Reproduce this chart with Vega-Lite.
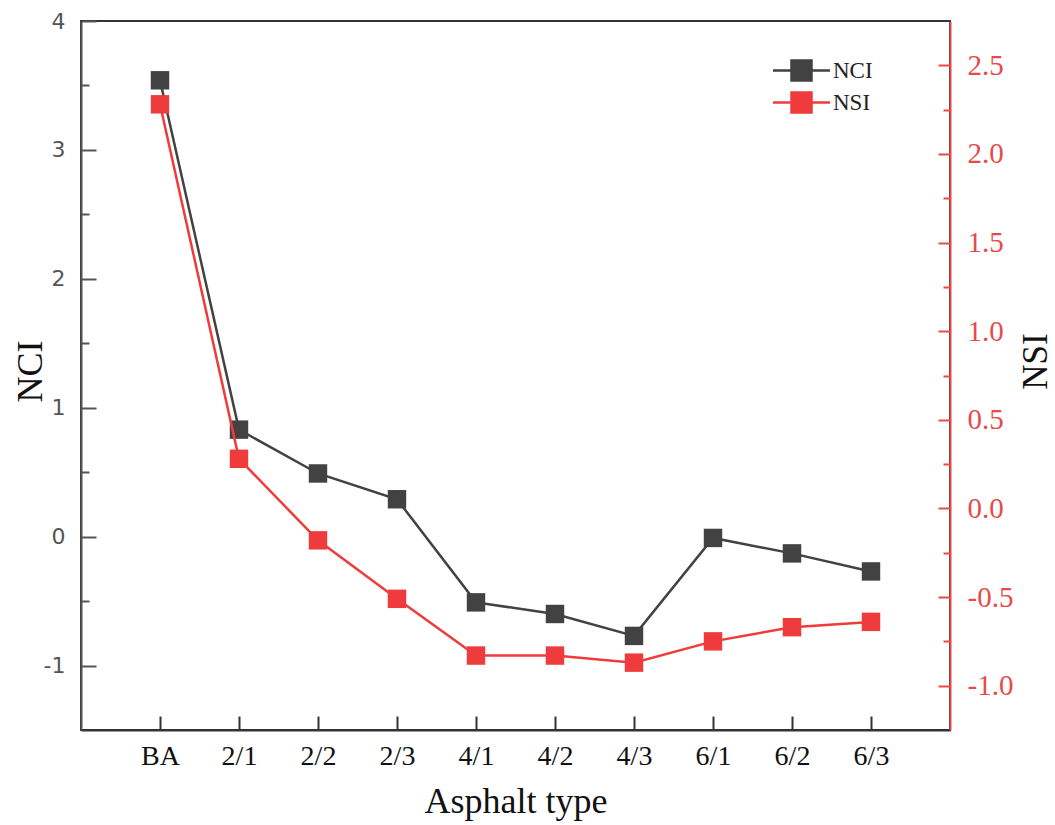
{
  "$schema": "https://vega.github.io/schema/vega-lite/v6.json",
  "width": 869,
  "height": 709,
  "autosize": {"type": "none"},
  "padding": {"left": 81, "top": 21, "right": 105, "bottom": 95},
  "data": {
    "values": [
      {"type": "BA", "series": "NCI", "value": 3.54},
      {"type": "2/1", "series": "NCI", "value": 0.83},
      {"type": "2/2", "series": "NCI", "value": 0.49},
      {"type": "2/3", "series": "NCI", "value": 0.29},
      {"type": "4/1", "series": "NCI", "value": -0.51},
      {"type": "4/2", "series": "NCI", "value": -0.6},
      {"type": "4/3", "series": "NCI", "value": -0.77},
      {"type": "6/1", "series": "NCI", "value": -0.01},
      {"type": "6/2", "series": "NCI", "value": -0.13},
      {"type": "6/3", "series": "NCI", "value": -0.27},
      {"type": "BA", "series": "NSI", "value": 2.28},
      {"type": "2/1", "series": "NSI", "value": 0.28},
      {"type": "2/2", "series": "NSI", "value": -0.18},
      {"type": "2/3", "series": "NSI", "value": -0.51},
      {"type": "4/1", "series": "NSI", "value": -0.83},
      {"type": "4/2", "series": "NSI", "value": -0.83},
      {"type": "4/3", "series": "NSI", "value": -0.87},
      {"type": "6/1", "series": "NSI", "value": -0.75},
      {"type": "6/2", "series": "NSI", "value": -0.67},
      {"type": "6/3", "series": "NSI", "value": -0.64}
    ]
  },
  "encoding": {
    "x": {
      "field": "type",
      "type": "nominal",
      "sort": ["BA", "2/1", "2/2", "2/3", "4/1", "4/2", "4/3", "6/1", "6/2", "6/3"],
      "scale": {"type": "point", "padding": 1},
      "axis": {
        "title": "Asphalt type",
        "labelAngle": 0,
        "labelFont": "Liberation Serif",
        "labelFontSize": 28,
        "labelColor": "#111",
        "labelPadding": 26,
        "tickSize": -14,
        "tickWidth": 2,
        "tickColor": "#333",
        "domainColor": "#333",
        "domainWidth": 2,
        "titleFont": "Liberation Serif",
        "titleFontSize": 36,
        "titleFontWeight": "normal",
        "titleColor": "#111",
        "titleY": 82,
        "titleBaseline": "alphabetic"
      }
    }
  },
  "layer": [
    {
      "transform": [{"filter": "datum.series === 'NCI'"}],
      "mark": {"type": "point", "opacity": 0},
      "encoding": {
        "y": {
          "field": "value",
          "type": "quantitative",
          "scale": {"domain": [-1.5, 4], "nice": false, "zero": false},
          "axis": {
            "orient": "left",
            "values": [-0.5, 0.5, 1.5, 2.5, 3.5],
            "labels": false,
            "domain": false,
            "grid": false,
            "tickSize": -8,
            "tickWidth": 2,
            "tickColor": "#555",
            "title": null
          }
        }
      }
    },
    {
      "transform": [{"filter": "datum.series === 'NSI'"}],
      "mark": {"type": "point", "opacity": 0},
      "encoding": {
        "y": {
          "field": "value",
          "type": "quantitative",
          "scale": {"domain": [-1.25, 2.75], "nice": false, "zero": false},
          "axis": {
            "orient": "right",
            "values": [-0.75, -0.25, 0.25, 0.75, 1.25, 1.75, 2.25],
            "labels": false,
            "domain": false,
            "grid": false,
            "tickSize": -7,
            "tickWidth": 2,
            "tickColor": "#e84a4a",
            "title": null
          }
        }
      }
    },
    {
      "transform": [{"filter": "datum.series === 'NCI'"}],
      "mark": {
        "type": "line",
        "strokeWidth": 2.5,
        "point": {"shape": "square", "size": 340, "filled": true, "opacity": 1}
      },
      "encoding": {
        "y": {
          "field": "value",
          "type": "quantitative",
          "scale": {"domain": [-1.5, 4], "nice": false, "zero": false},
          "axis": {
            "orient": "left",
            "title": "NCI",
            "values": [-1, 0, 1, 2, 3, 4],
            "labelExpr": "datum.value < 0 ? '-' + (-datum.value) : '' + datum.value",
            "grid": false,
            "labelFont": "DejaVu Sans",
            "labelFontSize": 22,
            "labelColor": "#555",
            "labelPadding": 31,
            "tickSize": -15,
            "tickWidth": 2,
            "tickColor": "#555",
            "domainColor": "#555",
            "domainWidth": 2,
            "titleFont": "Liberation Serif",
            "titleFontSize": 36,
            "titleFontWeight": "normal",
            "titleColor": "#111",
            "titleAngle": -90,
            "titleX": -51,
            "titleY": 350,
            "titleAlign": "center",
            "titleBaseline": "middle"
          }
        },
        "color": {
          "field": "series",
          "type": "nominal",
          "scale": {"domain": ["NCI", "NSI"], "range": ["#424242", "#ef3b3b"]},
          "legend": {
            "title": null,
            "orient": "none",
            "legendX": 709,
            "legendY": 38,
            "symbolType": "M-2.85,0H2.85M-1,-1H1V1H-1Z",
            "symbolSize": 400,
            "symbolStrokeWidth": 2.5,
            "labelFont": "Liberation Serif",
            "labelFontSize": 23,
            "labelColor": "#222",
            "labelOffset": 20,
            "rowPadding": 1,
            "encode": {
              "symbols": {
                "update": {
                  "fill": {"scale": "color", "field": "value"},
                  "stroke": {"scale": "color", "field": "value"},
                  "opacity": {"value": 1}
                }
              }
            }
          }
        }
      }
    },
    {
      "transform": [{"filter": "datum.series === 'NSI'"}],
      "mark": {
        "type": "line",
        "strokeWidth": 2.5,
        "point": {"shape": "square", "size": 340, "filled": true, "opacity": 1}
      },
      "encoding": {
        "y": {
          "field": "value",
          "type": "quantitative",
          "scale": {"domain": [-1.25, 2.75], "nice": false, "zero": false},
          "axis": {
            "orient": "right",
            "title": "NSI",
            "values": [-1, -0.5, 0, 0.5, 1, 1.5, 2, 2.5],
            "labelExpr": "datum.value < 0 ? '-' + format(-datum.value, '.1f') : format(datum.value, '.1f')",
            "grid": false,
            "labelFont": "Liberation Serif",
            "labelFontSize": 29,
            "labelColor": "#e84a4a",
            "labelPadding": 29,
            "tickSize": -12,
            "tickWidth": 2,
            "tickColor": "#e84a4a",
            "domainColor": "#e84a4a",
            "domainWidth": 2,
            "titleFont": "Liberation Serif",
            "titleFontSize": 35,
            "titleFontWeight": "normal",
            "titleColor": "#111",
            "titleAngle": -90,
            "titleX": 85,
            "titleY": 340,
            "titleAlign": "center",
            "titleBaseline": "middle"
          }
        },
        "color": {"field": "series", "type": "nominal"}
      }
    }
  ],
  "resolve": {"scale": {"y": "independent"}},
  "config": {
    "view": {"stroke": "#333", "strokeWidth": 2},
    "font": "Liberation Serif"
  }
}
